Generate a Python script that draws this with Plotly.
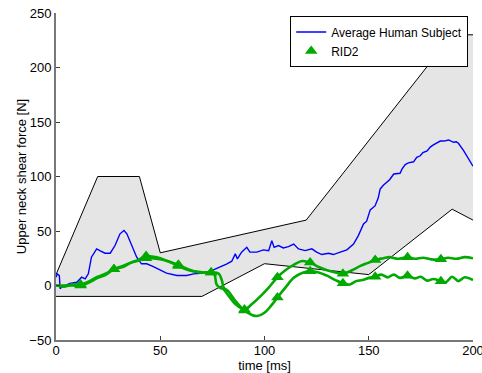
import plotly.graph_objects as go

# Corridor (upper and lower bounds), time in ms, force in N
corr_upper_t = [0, 20, 40, 50, 120, 190, 200]
corr_upper_v = [10, 100, 100, 30, 60, 230, 230]
corr_lower_t = [0, 70, 100, 150, 190, 200]
corr_lower_v = [-10, -10, 20, 10, 70, 60]

# Average human subject response
human_t = [0, 0.6, 1.6, 2, 2.7, 4.3, 6.7, 10, 12.3, 14, 15.5, 17, 19.5, 21, 23.5, 26,
           28.3, 30.7, 32.6, 34, 36.3, 38.7, 41, 43.5, 46.7, 50, 53, 58, 62.7, 66,
           70.7, 75.5, 78.7, 82, 84.3, 86, 87, 89, 91.5, 93, 96.3, 99.5, 102, 103.5,
           104.6, 106.7, 109, 111.5, 114, 116.3, 119.5, 122.7, 125, 127.5, 130.7,
           133, 136.3, 139.5, 142.7, 145, 147.5, 149, 150.7, 153, 154.5, 155.5, 157,
           158.7, 160, 162, 165, 166, 167.5, 169, 171.5, 173, 174.7, 176, 178, 179.5,
           181, 184.3, 186, 188.3, 190.7, 192, 193, 195.5, 198, 200]
human_v = [7.6, 10.7, 9, -3, -1.5, 0, 2, 3, 7.6, 6, 10.7, 26, 33.6, 32, 29.6, 29.6,
           36.7, 47.4, 50.4, 47.4, 36.7, 26, 19.9, 19.9, 17.4, 14.4, 11.3, 9.2, 9.2, 10.7,
           11.3, 14.4, 16.8, 19.9, 22.3, 29, 24.4, 30.6, 35, 30.6, 30.6, 32.7, 32, 41,
           35, 36.7, 34.5, 35.7, 38, 33.6, 32, 33.6, 30.6, 28.4, 29.6,
           28.4, 30.6, 32.7, 38, 45.8, 56.5, 59, 69.4, 73, 80, 88.6, 92,
           95, 97, 102.3, 103, 107, 111, 112.5, 113.5, 117.6, 119, 122, 123.5, 127,
           129, 132.5, 132.5, 133.5, 131.4, 131.8, 130.5, 123.7, 116, 109.4]

# RID2 dummy, test A
rid2a_t = [0, 4, 8, 11.8, 15, 20, 24, 27.8, 32, 36, 40, 43.2, 46, 50, 54, 58.7, 62, 66,
           70, 74.4, 76, 77, 78.5, 80, 83, 86, 90.4, 94, 98, 102, 106.2, 110, 114, 118,
           121.9, 126, 130, 134, 137.6, 142, 146, 150, 153.1, 157, 160, 164, 168.6, 172,
           176, 180, 184.6, 188, 192, 196, 200]
rid2a_v = [0, -1, 1, 1, 3, 8, 11, 15, 18, 21, 24, 27, 26.5, 25, 22, 19, 16, 13,
           12, 12, 10, 1, -2, -3, -10, -17, -22, -17, -10, -2, 7.6, 14, 19, 22.5,
           21, 17, 14, 12, 10.7, 14, 18, 21, 23.5, 25, 26, 24.5, 26, 24.5,
           25.5, 24, 24, 25.5, 24.5, 26, 25]

# RID2 dummy, test B
rid2b_t = [0, 4, 8, 11.8, 15, 20, 24, 27.8, 32, 36, 40, 43.2, 46, 50, 54, 58.7, 62, 66,
           70, 74.4, 78, 79.5, 80.5, 82.5, 86, 90.4, 94, 96.5, 100, 103, 106.2, 110, 114,
           118, 121.9, 126, 130, 134, 137.6, 141, 144, 147, 150, 153.1, 156, 159, 162,
           165, 168.6, 172, 175, 178, 181, 184.6, 187, 190, 193, 196, 200]
rid2b_v = [0, 0, 0, 0, 2, 7, 10, 15, 17, 21, 23, 25, 25, 24, 22, 18, 15, 13,
           12, 12, 11, 5, -2, -5, -14, -23, -27, -28, -25, -19, -11, -2, 7,
           11.5, 13, 12, 9, 5, 2, 1, 4, 5, 7, 8, 10, 7.5, 10,
           7, 9, 6.5, 8, 4.5, 6, 4, 3, 8, 4, 7.5, 5]

# Marker positions along the RID2 traces
mark_t = [11.8, 27.8, 43.2, 58.7, 74.4, 90.4, 106.2, 121.9, 137.6, 153.1, 168.6, 184.6]
mark_a = [1, 15, 27, 19, 12, -22, 7.6, 21, 10.7, 23.5, 26, 24]
mark_b = [0, 15, 25, 18, 12, -23, -11, 13, 2, 8, 9, 4]

GREEN = "rgb(0,170,0)"
FONT = "Liberation Sans, Arial, sans-serif"

fig = go.Figure()

# shaded corridor
fig.add_trace(go.Scatter(
    x=corr_upper_t + corr_lower_t[::-1], y=corr_upper_v + corr_lower_v[::-1],
    fill="toself", fillcolor="rgb(229,229,229)", line=dict(width=0),
    mode="lines", hoverinfo="skip", showlegend=False))
fig.add_trace(go.Scatter(x=corr_upper_t, y=corr_upper_v, mode="lines",
                         line=dict(color="black", width=1), showlegend=False))
fig.add_trace(go.Scatter(x=corr_lower_t, y=corr_lower_v, mode="lines",
                         line=dict(color="black", width=1), showlegend=False))

fig.add_trace(go.Scatter(x=human_t, y=human_v, mode="lines",
                         name="Average Human Subject",
                         line=dict(color="rgb(0,0,255)", width=1.4)))

for t, v in ((rid2a_t, rid2a_v), (rid2b_t, rid2b_v)):
    fig.add_trace(go.Scatter(x=t, y=v, mode="lines", line=dict(color=GREEN, width=2.6),
                             line_shape="spline", showlegend=False))

fig.add_trace(go.Scatter(x=mark_t + mark_t, y=mark_a + mark_b, mode="markers",
                         name="RID2",
                         marker=dict(symbol="triangle-up", size=11, color=GREEN)))

axis_common = dict(showline=True, linecolor="rgb(120,120,120)", linewidth=2,
                   ticks="inside", ticklen=4, tickcolor="rgb(60,60,60)",
                   showgrid=False, zeroline=False, mirror=False,
                   ticklabeloverflow="allow",
                   tickfont=dict(size=13, color="black", family=FONT))

fig.update_layout(
    width=482, height=373,
    margin=dict(l=56, r=9, t=13, b=33),
    paper_bgcolor="white", plot_bgcolor="white",
    font=dict(family=FONT, size=13, color="black"),
    xaxis=dict(range=[0, 200], tickvals=[0, 50, 100, 150, 200],
               ticklabelstandoff=-3,
               title=dict(text="time [ms]", standoff=0, font=dict(size=13)),
               automargin=False, **axis_common),
    yaxis=dict(range=[-50, 250], tickvals=[-50, 0, 50, 100, 150, 200, 250],
               title=dict(text="Upper neck shear force [N]", standoff=0, font=dict(size=13)),
               automargin=False, **axis_common),
    legend=dict(x=0.988, y=0.99, xanchor="right", yanchor="top",
                bgcolor="white", bordercolor="black", borderwidth=1.2,
                font=dict(size=12), tracegroupgap=0, traceorder="normal",
                itemwidth=30),
)

fig.write_html("out.html")
